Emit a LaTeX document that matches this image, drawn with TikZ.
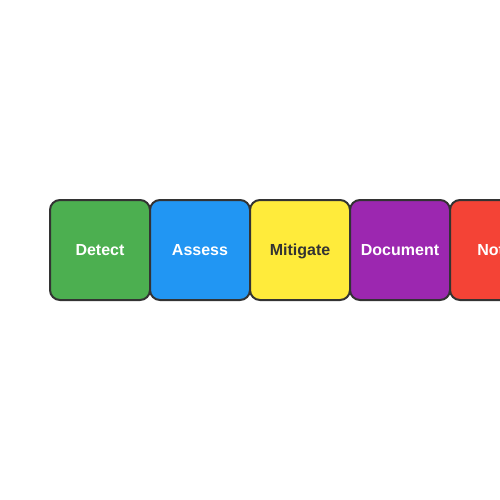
\documentclass[tikz,border=0pt]{standalone}
\usepackage{fontspec}
\setmainfont{Liberation Sans}
\definecolor{cgreen}{HTML}{4CAF50}
\definecolor{cblue}{HTML}{2196F3}
\definecolor{cyellow}{HTML}{FFEB3B}
\definecolor{cpurple}{HTML}{9C27B0}
\definecolor{cred}{HTML}{F44336}
\definecolor{cborder}{HTML}{333333}
\tikzset{
  stagebox/.style={draw=cborder, line width=2pt, rounded corners=10pt,
    minimum width=100pt, minimum height=100pt, inner sep=0pt,
    text height=11.5pt, text depth=0pt,
    font=\fontsize{16pt}{19pt}\selectfont\bfseries, text=white}
}
\begin{document}
\begin{tikzpicture}[x=1pt,y=-1pt]
\path[use as bounding box] (0,0) rectangle (500,500);
\clip (0,0) rectangle (500,500);
\fill[white] (0,0) rectangle (500,500);
\node[stagebox, fill=cgreen] (detect) at (100,250) {Detect};
\node[stagebox, fill=cblue] (assess) at (200,250) {Assess};
\node[stagebox, fill=cyellow, text=cborder] (mitigate) at (300,250) {Mitigate};
\node[stagebox, fill=cpurple] (document) at (400,250) {Document};
\node[stagebox, fill=cred] (notify) at (500,250) {Notify};
\end{tikzpicture}
\end{document}
